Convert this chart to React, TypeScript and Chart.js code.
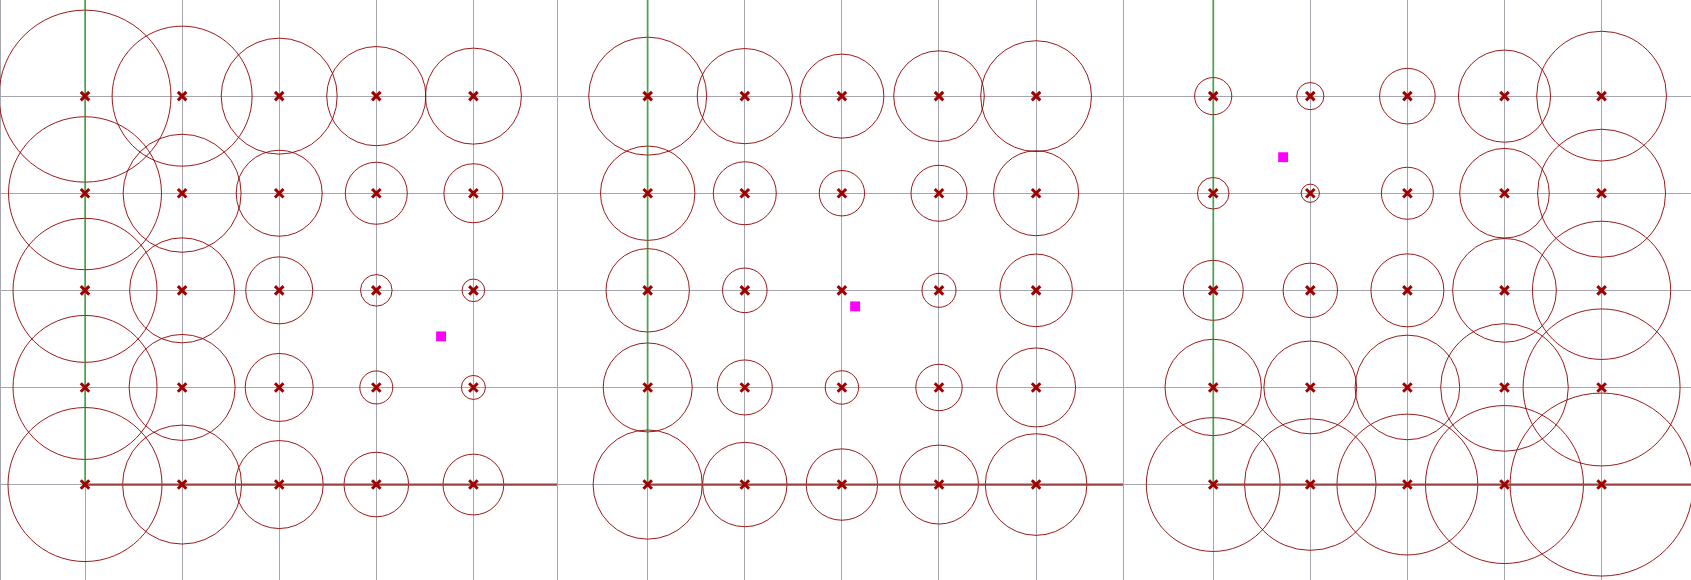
import React, { useEffect, useRef } from 'react';
import { Chart, registerables } from 'chart.js';

Chart.register(...registerables);

// ---- data ----
const xValues = [0, 1, 2, 3, 4];
const yValues = [0, 1, 2, 3, 4];

// bubble radii (px), rows are y = 0..4, columns are x = 0..4
const radiiPanel1 = [
  [77, 59.5, 44, 32.3, 30.4],
  [72, 53, 34, 16.5, 12],
  [72, 52.5, 33.5, 15.8, 11.3],
  [76.5, 59, 43, 31, 29.5],
  [86, 70, 58, 49.6, 48],
];
const radiiPanel2 = [
  [54.6, 42.2, 35.7, 39.5, 50.8],
  [44.5, 27.5, 16.7, 23.2, 39.5],
  [41.7, 22.3, 1, 17, 36.3],
  [47.2, 31.5, 22.7, 28, 42.5],
  [59, 47.6, 42, 45.3, 55.4],
];
const radiiPanel3 = [
  [66.9, 65.8, 70.4, 79, 91.5],
  [48.2, 46.4, 52.3, 63.8, 78.5],
  [30, 27.2, 36.5, 51.9, 69.1],
  [15.8, 9.1, 26, 44.8, 64],
  [18.6, 13.6, 27.8, 46.1, 64.9],
];
const targetX = [3.667, 2.136, 0.72];
const targetY = [1.526, 1.835, 3.371];

// ---- layout ----
const PANELS = [
  { left: 0, width: 557, xMin: -0.8754, xMax: 4.861, radii: radiiPanel1 },
  { left: 557, width: 566, xMin: -0.934, xMax: 4.895, radii: radiiPanel2 },
  { left: 1123, width: 568, xMin: -0.929, xMax: 4.921, radii: radiiPanel3 },
];
const Y_MIN = -0.983;
const Y_MAX = 4.99;
const HEIGHT = 580;

const GRID_COLOR = '#a6a6ae';
const MARK_COLOR = '#a00000';
const CIRCLE_COLOR = '#8e0000';

function Panel({ index }: { index: number }) {
  const ref = useRef<HTMLCanvasElement | null>(null);
  const p = PANELS[index];
  useEffect(() => {
    if (!ref.current) return;
    const bubbles: { x: number; y: number; r: number }[] = [];
    const crosses: { x: number; y: number }[] = [];
    yValues.forEach((y, yi) => {
      xValues.forEach((x, xi) => {
        bubbles.push({ x, y, r: p.radii[yi][xi] });
        crosses.push({ x, y });
      });
    });
    const chart = new Chart(ref.current, {
      type: 'scatter',
      data: {
        datasets: [
          {
            type: 'scatter',
            data: crosses,
            pointStyle: 'crossRot',
            pointRadius: 6,
            borderColor: MARK_COLOR,
            backgroundColor: MARK_COLOR,
            borderWidth: 3,
            clip: false,
          } as any,
          {
            type: 'scatter',
            data: [{ x: targetX[index], y: targetY[index] }],
            pointStyle: 'rect',
            pointRadius: 7,
            borderWidth: 0,
            backgroundColor: '#ff00ff',
            borderColor: '#ff00ff',
            clip: false,
          } as any,
          {
            type: 'line',
            data: [
              { x: 0, y: 0 },
              { x: 0, y: Y_MAX },
            ],
            borderColor: 'rgba(40,140,40,0.6)',
            borderWidth: 2,
            pointRadius: 0,
            showLine: true,
          } as any,
          {
            type: 'line',
            data: [
              { x: 0, y: 0 },
              { x: p.xMax, y: 0 },
            ],
            borderColor: '#984444',
            borderWidth: 2.2,
            pointRadius: 0,
            showLine: true,
          } as any,
          {
            type: 'bubble',
            data: bubbles,
            backgroundColor: 'rgba(0,0,0,0)',
            borderColor: CIRCLE_COLOR,
            borderWidth: 0.9,
            clip: false,
          } as any,
        ],
      },
      options: {
        responsive: false,
        animation: false,
        devicePixelRatio: 1,
        events: [],
        layout: { padding: 0, autoPadding: false },
        plugins: { legend: { display: false }, tooltip: { enabled: false }, title: { display: false } },
        scales: {
          x: {
            type: 'linear',
            min: p.xMin,
            max: p.xMax,
            afterBuildTicks: (scale: any) => {
              scale.ticks = [p.xMin, ...xValues, p.xMax].map((v) => ({ value: v }));
            },
            ticks: { display: false },
            grid: { color: GRID_COLOR, lineWidth: 1, drawTicks: false },
            border: { display: false },
          },
          y: {
            type: 'linear',
            min: Y_MIN,
            max: Y_MAX,
            afterBuildTicks: (scale: any) => {
              scale.ticks = yValues.map((v) => ({ value: v }));
            },
            ticks: { display: false },
            grid: { color: GRID_COLOR, lineWidth: 1, drawTicks: false },
            border: { display: false },
          },
        },
      } as any,
    });
    return () => chart.destroy();
  }, [index]);
  return (
    <canvas
      ref={ref}
      width={p.width}
      height={HEIGHT}
      style={{ position: 'absolute', left: p.left, top: 0, width: p.width, height: HEIGHT }}
    />
  );
}

export default function App() {
  return (
    <div style={{ position: 'absolute', left: 0, top: 0, width: 1691, height: HEIGHT, overflow: 'hidden', background: '#fff' }}>
      {PANELS.map((_, i) => (
        <Panel key={i} index={i} />
      ))}
    </div>
  );
}
